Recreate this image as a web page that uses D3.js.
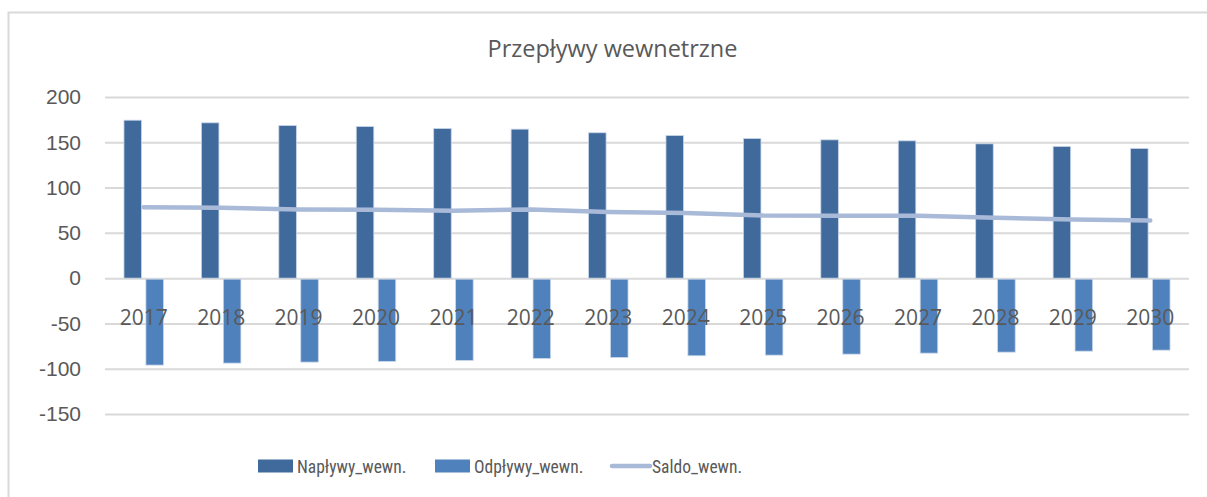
<!DOCTYPE html>
<html>
<head>
<meta charset="utf-8">
<script src="https://cdn.jsdelivr.net/npm/d3@7"></script>
<style>
  html, body { margin: 0; padding: 0; background: #fff; }
  svg { display: block; font-family: 'Open Sans', 'Noto Sans', sans-serif; }
  .legend-label { font-family: 'Liberation Sans Narrow', 'Arial Narrow', 'Roboto', sans-serif; font-stretch: condensed; }
</style>
</head>
<body>
<svg id="chart" width="1207" height="497"></svg>
<script>
const years = ['2017', '2018', '2019', '2020', '2021', '2022', '2023', '2024', '2025', '2026', '2027', '2028', '2029', '2030'];
const naplywy = [174.4, 171.5, 168.5, 167.4, 165.2, 164.5, 160.5, 157.5, 154.2, 152.7, 151.6, 148.3, 145.4, 143.2];
const odplywy = [-96.0, -93.8, -92.7, -91.9, -90.8, -88.6, -87.5, -85.7, -85.0, -83.9, -82.8, -81.7, -80.6, -79.5];
const saldo = [78.4, 77.7, 75.8, 75.5, 74.4, 75.9, 73.0, 71.8, 69.2, 68.8, 68.8, 66.6, 64.8, 63.7];
const yTicks = [-150, -100, -50, 0, 50, 100, 150, 200];
const title = 'Przepływy wewnetrzne';
const seriesNames = ['Napływy_wewn.', 'Odpływy_wewn.', 'Saldo_wewn.'];
const colors = ['#416a9c', '#4f81bd', '#a9b9d8'];

const svg = d3.select('#chart');
const textColor = '#595959';
const gridColor = '#d9d9d9';

// outer frame, cut by the window on the right and bottom
svg.append('rect')
  .attr('x', 8.5)
  .attr('y', 12.5)
  .attr('width', 1220)
  .attr('height', 500)
  .attr('fill', '#fff')
  .attr('stroke', gridColor)
  .attr('stroke-width', 2);

const x = d3.scaleBand()
  .domain(years)
  .range([105, 1189]);

const bw = x.bandwidth();
const x1 = d3.scaleBand()
  .domain(['n', 'o'])
  .range([bw / 2 - 19.75, bw / 2 + 19.75])
  .paddingInner(0.2);

const y = d3.scaleLinear()
  .domain([-150, 200])
  .range([414, 97]);

// gridlines + y labels
const yAxis = svg.append('g')
  .attr('transform', 'translate(105,0)')
  .call(d3.axisLeft(y)
    .tickValues(yTicks)
    .tickSize(-(1189 - 105))
    .tickPadding(24)
    .tickFormat(d3.format('d')));
yAxis.select('.domain').remove();
yAxis.selectAll('.tick line')
  .attr('stroke', gridColor)
  .attr('stroke-width', 2);
yAxis.selectAll('.tick text')
  .attr('fill', textColor)
  .style('font-size', '21px')
  .text(d => d < 0 ? '-' + Math.abs(d) : d);

// bars
const groups = svg.append('g')
  .selectAll('g')
  .data(years)
  .join('g')
  .attr('transform', d => `translate(${x(d)},0)`);

groups.append('rect')
  .attr('x', x1('n'))
  .attr('width', x1.bandwidth())
  .attr('y', (_, i) => y(naplywy[i]))
  .attr('height', (_, i) => y(0) - y(naplywy[i]))
  .attr('fill', colors[0])
  .attr('stroke', '#c9d6e8')
  .attr('stroke-width', 0.8);

groups.append('rect')
  .attr('x', x1('o'))
  .attr('width', x1.bandwidth())
  .attr('y', y(0) + 1)
  .attr('height', (_, i) => y(odplywy[i]) - y(0) - 1)
  .attr('fill', colors[1])
  .attr('stroke', '#c9d6e8')
  .attr('stroke-width', 0.8);

// category labels, sitting just under the zero line
svg.append('g')
  .selectAll('text')
  .data(years)
  .join('text')
  .attr('x', d => x(d) + bw / 2)
  .attr('y', y(0) + 47)
  .attr('text-anchor', 'middle')
  .attr('fill', textColor)
  .style('font-size', '21px')
  .text(d => d);

// saldo line
const lineGen = d3.line()
  .x((_, i) => x(years[i]) + bw / 2)
  .y(d => y(d));

svg.append('path')
  .datum(saldo)
  .attr('d', lineGen)
  .attr('fill', 'none')
  .attr('stroke', colors[2])
  .attr('stroke-width', 4.5)
  .attr('stroke-linecap', 'round')
  .attr('stroke-linejoin', 'round');

// title
svg.append('text')
  .attr('x', 612.5)
  .attr('y', 57)
  .attr('text-anchor', 'middle')
  .attr('fill', textColor)
  .style('font-size', '23.5px')
  .text(title);

// legend
const legend = svg.append('g');
const legendX = [258, 435, 612];
seriesNames.forEach((name, i) => {
  const g = legend.append('g').attr('transform', `translate(${legendX[i]},466)`);
  if (i < 2) {
    g.append('rect')
      .attr('x', 0)
      .attr('y', -6.5)
      .attr('width', 35)
      .attr('height', 13)
      .attr('fill', colors[i]);
  } else {
    g.append('line')
      .attr('x1', 0)
      .attr('x2', 38)
      .attr('stroke', colors[i])
      .attr('stroke-width', 4.5)
      .attr('stroke-linecap', 'round');
  }
  g.append('text')
    .attr('class', 'legend-label')
    .attr('x', i < 2 ? 39 : 40)
    .attr('y', 7)
    .attr('fill', textColor)
    .style('font-size', '17.5px')
    .text(name);
});
</script>
</body>
</html>
